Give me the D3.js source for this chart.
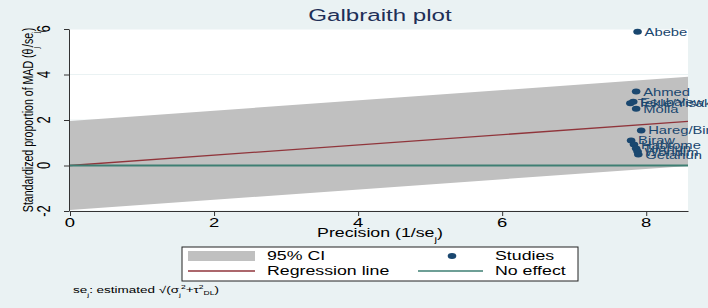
<!DOCTYPE html>
<html>
<head>
<meta charset="utf-8">
<script src="https://cdn.jsdelivr.net/npm/d3@7"></script>
<style>
  body { margin: 0; background: #eaf2f3; }
  svg { display: block; font-family: "Liberation Sans", Arial, sans-serif; }
</style>
</head>
<body>
<svg id="chart" width="708" height="308"></svg>
<script>
// study data
const studyNames = ["Abebe", "Ahmed", "Esubalew", "Tekle/Yisak", "Molla", "Hareg/Bir",
  "Biraw", "Habtome", "Tilahun", "Wondim", "Getahun"];
const precision = [7.88, 7.86, 7.82, 7.78, 7.86, 7.93, 7.79, 7.83, 7.86, 7.88, 7.89];
const stdEffect = [5.88, 3.25, 2.8, 2.74, 2.5, 1.54, 1.1, 0.92, 0.75, 0.61, 0.48];

const slope = 0.226;   // regression through origin
const zCrit = 1.96;
const xTicks = [0, 2, 4, 6, 8];
const yTicks = [-2, 0, 2, 4, 6];
const xMax = 8.58;

const sx = 1.42; // the original graph is stretched horizontally
const svg = d3.select("#chart");

const x = d3.scaleLinear().domain([0, xMax]).range([70, 688]);
const y = d3.scaleLinear().domain([-2, 6]).range([211, 29]);

// horizontally stretched text helper
function txt(g, px, py, str, size, anchor, color) {
  return g.append("text")
    .attr("transform", `translate(${px},${py}) scale(${sx},1)`)
    .attr("text-anchor", anchor || "start")
    .style("font-size", size + "px")
    .style("fill", color || "#000")
    .text(str);
}

// plot region
svg.append("rect")
  .attr("x", x(0)).attr("y", y(6))
  .attr("width", x(xMax) - x(0)).attr("height", y(-2) - y(6))
  .attr("fill", "#fff");

// gridlines
svg.append("g").selectAll("line").data(yTicks).join("line")
  .attr("x1", x(0)).attr("x2", x(xMax))
  .attr("y1", (d) => y(d)).attr("y2", (d) => y(d))
  .attr("stroke", "#eaf2f3").attr("stroke-width", 1);

// CI band
const bandX = [0, xMax];
const area = d3.area()
  .x((d) => x(d))
  .y0((d) => y(slope * d - zCrit))
  .y1((d) => y(slope * d + zCrit));
svg.append("path").datum(bandX).attr("d", area).attr("fill", "#c0c0c0");

// regression line & no effect
const line = d3.line().x((d) => x(d[0])).y((d) => y(d[1]));
svg.append("path").datum(bandX.map((d) => [d, slope * d]))
  .attr("d", line).attr("fill", "none")
  .attr("stroke", "#90353b").attr("stroke-width", 1.3);
svg.append("path").datum(bandX.map((d) => [d, 0]))
  .attr("d", line).attr("fill", "none")
  .attr("stroke", "#3e7f73").attr("stroke-width", 2);

// axes
const xAxis = svg.append("g").attr("transform", `translate(0,${y(-2)})`)
  .call(d3.axisBottom(x).tickValues(xTicks).tickSize(5).tickSizeOuter(0).tickFormat(""));
const yAxis = svg.append("g").attr("transform", `translate(${x(0) - 1},0)`)
  .call(d3.axisLeft(y).tickValues(yTicks).tickSize(5).tickSizeOuter(0).tickFormat(""));
[xAxis, yAxis].forEach((a) => {
  a.select(".domain").attr("stroke", "#333");
  a.selectAll(".tick line").attr("stroke", "#333");
});

xTicks.forEach((t) => txt(svg, x(t), 227, String(t), 13, "middle"));
yTicks.forEach((t) => {
  svg.append("text")
    .attr("transform", `translate(50,${y(t)}) rotate(-90) scale(1,${sx})`)
    .attr("text-anchor", "middle")
    .style("font-size", "13px")
    .text(String(t));
});

// axis titles
const xt = txt(svg, 380, 237, "Precision (1/se", 12.5, "middle");
xt.append("tspan").attr("baseline-shift", "sub").style("font-size", "8px").text("j");
xt.append("tspan").text(")");

const yt = svg.append("text")
  .attr("transform", `translate(33,120) rotate(-90) scale(1,${sx})`)
  .attr("text-anchor", "middle")
  .style("font-size", "10.6px");
yt.append("tspan").text("Standardized proportion of MAD (θ");
yt.append("tspan").attr("baseline-shift", "sub").style("font-size", "7px").text("j");
yt.append("tspan").text("/se");
yt.append("tspan").attr("baseline-shift", "sub").style("font-size", "7px").text("j");
yt.append("tspan").text(")");

// title
txt(svg, 380, 21, "Galbraith plot", 17, "middle", "#1e2f57");

// studies
const studies = studyNames.map((n, i) => ({ name: n, px: precision[i], val: stdEffect[i] }));
const sg = svg.append("g");
sg.selectAll("ellipse").data(studies).join("ellipse")
  .attr("cx", (d) => x(d.px)).attr("cy", (d) => y(d.val))
  .attr("rx", 4.3).attr("ry", 3)
  .attr("fill", "#1a476f");
studies.forEach((d) => txt(sg, x(d.px) + 7, y(d.val) + 4, d.name, 10.4, "start", "#1a476f"));

// legend
const lg = svg.append("g");
lg.append("rect").attr("x", 182).attr("y", 247).attr("width", 396).attr("height", 34)
  .attr("fill", "#fff").attr("stroke", "#222").attr("stroke-width", 1);
lg.append("rect").attr("x", 188).attr("y", 251).attr("width", 67).attr("height", 10)
  .attr("fill", "#c0c0c0");
lg.append("line").attr("x1", 188).attr("x2", 255).attr("y1", 271).attr("y2", 271)
  .attr("stroke", "#90353b").attr("stroke-width", 1.3);
lg.append("ellipse").attr("cx", 452).attr("cy", 256).attr("rx", 4.3).attr("ry", 3)
  .attr("fill", "#1a476f");
lg.append("line").attr("x1", 418).attr("x2", 483).attr("y1", 271).attr("y2", 271)
  .attr("stroke", "#3e7f73").attr("stroke-width", 1.5);
txt(lg, 267, 260, "95% CI", 12.5);
txt(lg, 267, 275, "Regression line", 12.5);
txt(lg, 495, 260, "Studies", 12.5);
txt(lg, 495, 275, "No effect", 12.5);

// footnote
const fn = txt(svg, 73, 293, "se", 9.5);
fn.append("tspan").attr("baseline-shift", "sub").style("font-size", "6px").text("j");
fn.append("tspan").text(": estimated √(σ");
fn.append("tspan").attr("baseline-shift", "sub").style("font-size", "6px").text("j");
fn.append("tspan").attr("dy", -4).style("font-size", "6px").text("2");
fn.append("tspan").attr("dy", 4).text("+τ");
fn.append("tspan").attr("dy", -4).style("font-size", "6px").text("2");
fn.append("tspan").attr("dy", 6).style("font-size", "6px").text("DL");
fn.append("tspan").attr("dy", -2).text(")");
</script>
</body>
</html>
